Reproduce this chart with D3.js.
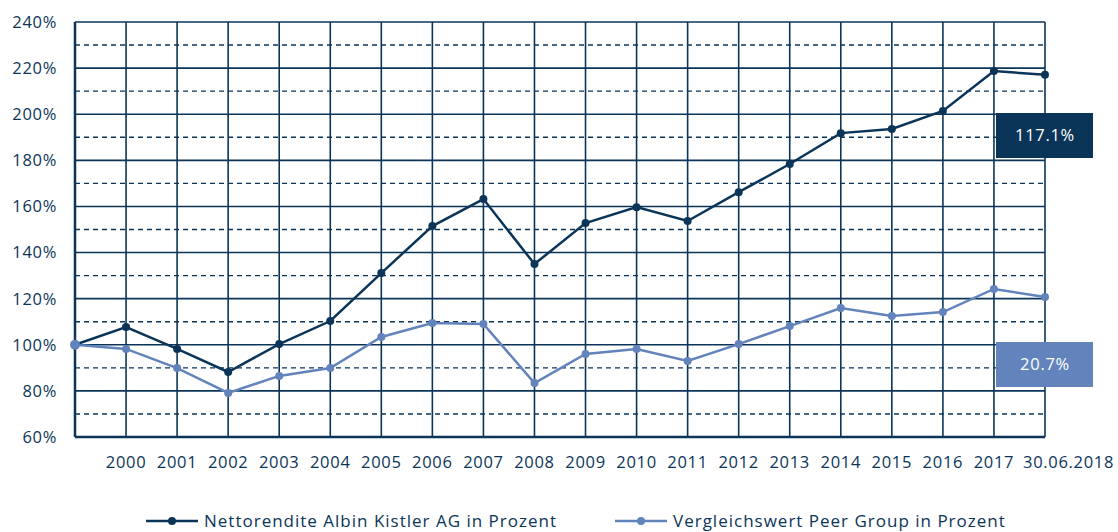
<!DOCTYPE html>
<html>
<head>
<meta charset="utf-8">
<script src="https://cdn.jsdelivr.net/npm/d3@7"></script>
<style>
  body { margin: 0; background: #fff; }
  svg { display: block; font-family: "Open Sans", Lato, sans-serif; }
</style>
</head>
<body>
<div id="chart"></div>
<script>
'use strict';

// Categories (first point is the 100% base, unlabeled)
const categories = ['', '2000', '2001', '2002', '2003', '2004', '2005', '2006', '2007', '2008',
  '2009', '2010', '2011', '2012', '2013', '2014', '2015', '2016', '2017', '30.06.2018'];

const kistler = [100, 107.7, 98.2, 88.2, 100.3, 110.3, 131.1, 151.5, 163.2, 135.0,
  152.8, 159.7, 153.7, 166.2, 178.4, 191.8, 193.6, 201.4, 218.7, 217.1];

const peer = [100, 98.2, 89.9, 79.1, 86.5, 89.9, 103.4, 109.4, 109.0, 83.4,
  96.0, 98.2, 93.0, 100.3, 108.1, 115.9, 112.5, 114.2, 124.2, 120.7];

const yTicks = [60, 80, 100, 120, 140, 160, 180, 200, 220, 240];
const yDashed = [70, 90, 110, 130, 150, 170, 190, 210, 230];

const seriesNames = ['Nettorendite Albin Kistler AG in Prozent', 'Vergleichswert Peer Group in Prozent'];
const endLabels = ['117.1%', '20.7%'];

const dark = '#0b3558';
const light = '#6283bb';

const width = 1118, height = 532;
const margin = { top: 22, right: 73, bottom: 95, left: 75 };
const innerW = width - margin.left - margin.right;
const innerH = height - margin.top - margin.bottom;

const svg = d3.select('#chart').append('svg')
  .attr('width', width)
  .attr('height', height);

const g = svg.append('g')
  .attr('transform', 'translate(' + margin.left + ',' + margin.top + ')');

const x = d3.scalePoint().domain(d3.range(categories.length)).range([0, innerW]);
const y = d3.scaleLinear().domain([60, 240]).range([innerH, 0]);

// Dashed horizontal grid
g.selectAll('.dash').data(yDashed).enter().append('line')
  .attr('x1', 0).attr('x2', innerW)
  .attr('y1', d => y(d)).attr('y2', d => y(d))
  .attr('stroke', dark).attr('stroke-width', 1.4)
  .attr('stroke-dasharray', '5,4');

// Solid horizontal grid
g.selectAll('.hgrid').data(yTicks).enter().append('line')
  .attr('x1', 0).attr('x2', innerW)
  .attr('y1', d => y(d)).attr('y2', d => y(d))
  .attr('stroke', dark).attr('stroke-width', 1.6);

// Vertical grid
g.selectAll('.vgrid').data(d3.range(categories.length)).enter().append('line')
  .attr('x1', d => x(d)).attr('x2', d => x(d))
  .attr('y1', 0).attr('y2', innerH)
  .attr('stroke', dark).attr('stroke-width', 1.6);

// Axes lines (thicker)
g.append('line').attr('x1', 0).attr('x2', 0).attr('y1', 0).attr('y2', innerH)
  .attr('stroke', dark).attr('stroke-width', 2.5);
g.append('line').attr('x1', 0).attr('x2', innerW).attr('y1', innerH).attr('y2', innerH)
  .attr('stroke', dark).attr('stroke-width', 2.5);

const fontSize = 16.5;
const spacing = '0.7px';

// Y tick labels
g.selectAll('.ylab').data(yTicks).enter().append('text')
  .attr('x', -18).attr('y', d => y(d)).attr('dy', '0.36em')
  .attr('text-anchor', 'end')
  .attr('fill', dark).attr('font-size', fontSize).attr('letter-spacing', spacing)
  .text(d => d + '%');

// X tick labels (last label shifted right like the reference)
const lastIdx = categories.length - 1;
g.selectAll('.xlab').data(categories).enter().append('text')
  .attr('x', (d, i) => i === lastIdx ? x(i) - 22 : x(i))
  .attr('y', innerH + 31)
  .attr('text-anchor', (d, i) => i === lastIdx ? 'start' : 'middle')
  .attr('fill', dark).attr('font-size', fontSize).attr('letter-spacing', spacing)
  .text(d => d);

// End label boxes
const boxes = [
  { label: endLabels[0], color: dark, cy: 135 },
  { label: endLabels[1], color: light, cy: 364 }
];
boxes.forEach(b => {
  const cx = x(lastIdx);
  g.append('rect')
    .attr('x', cx - 49).attr('y', b.cy - margin.top - 22)
    .attr('width', 97).attr('height', 45)
    .attr('fill', b.color);
  g.append('text')
    .attr('x', cx).attr('y', b.cy - margin.top).attr('dy', '0.36em')
    .attr('text-anchor', 'middle').attr('fill', '#fff')
    .attr('font-size', fontSize).attr('letter-spacing', spacing)
    .text(b.label);
});

// Lines
const line = d3.line().x((d, i) => x(i)).y(d => y(d));
[[peer, light], [kistler, dark]].forEach(([data, color]) => {
  g.append('path').datum(data)
    .attr('fill', 'none').attr('stroke', color).attr('stroke-width', 2.5)
    .attr('d', line);
  g.selectAll(null).data(data).enter().append('circle')
    .attr('cx', (d, i) => x(i)).attr('cy', d => y(d))
    .attr('r', 4).attr('fill', color);
});
// base point drawn in light on top as in reference
g.append('circle').attr('cx', x(0)).attr('cy', y(peer[0])).attr('r', 5).attr('fill', light);

// Legend
const legend = svg.append('g');
const legendItems = [
  { name: seriesNames[0], color: dark, x0: 146 },
  { name: seriesNames[1], color: light, x0: 615 }
];
legendItems.forEach(l => {
  legend.append('line').attr('x1', l.x0).attr('x2', l.x0 + 52)
    .attr('y1', 521).attr('y2', 521)
    .attr('stroke', l.color).attr('stroke-width', 2.5);
  legend.append('circle').attr('cx', l.x0 + 26).attr('cy', 521).attr('r', 4).attr('fill', l.color);
  legend.append('text').attr('x', l.x0 + 58).attr('y', 521).attr('dy', '0.34em')
    .attr('fill', dark).attr('font-size', 17).attr('letter-spacing', '1px')
    .text(l.name);
});
</script>
</body>
</html>
